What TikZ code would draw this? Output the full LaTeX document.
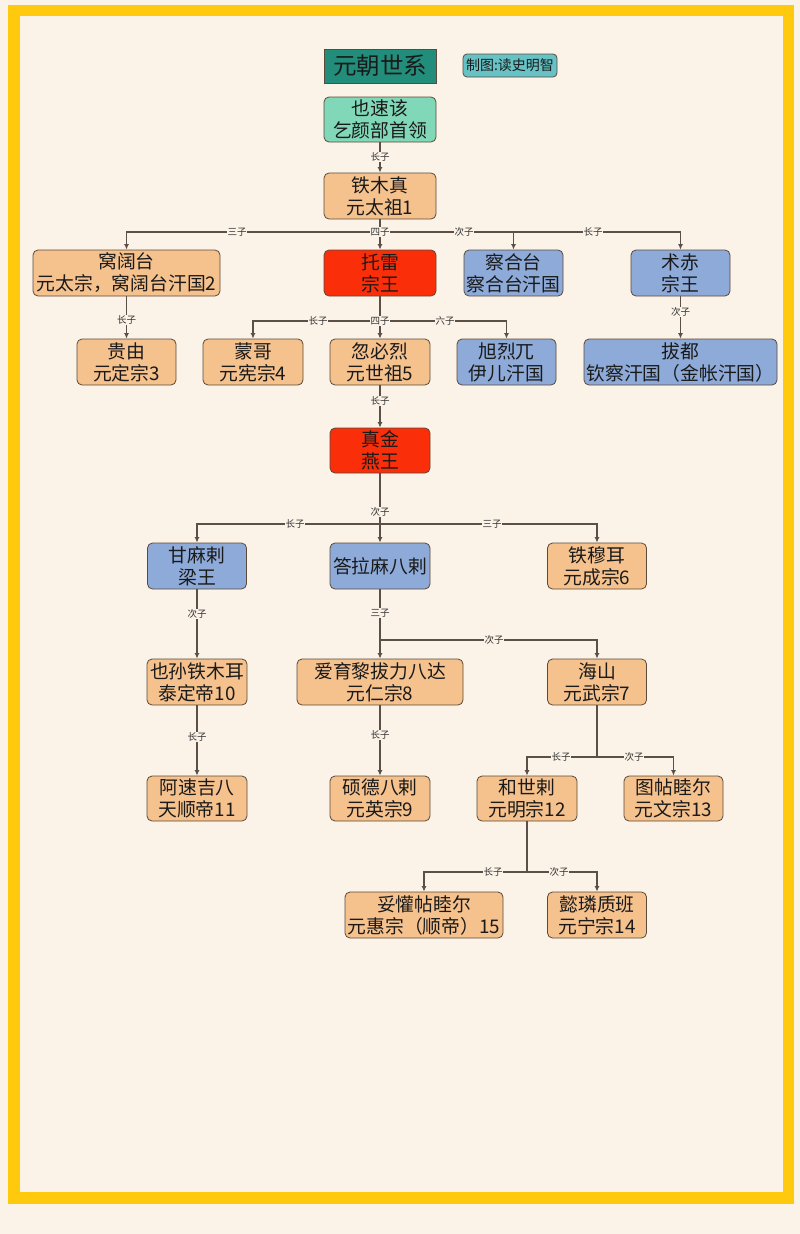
\documentclass[tikz,border=0pt]{standalone}
\usepackage{fontspec}
\setmainfont{Noto Sans CJK SC}
\usetikzlibrary{arrows.meta}
\definecolor{bgc}{HTML}{FCF3E8}
\definecolor{framec}{HTML}{FFC90E}
\definecolor{orangec}{HTML}{F5C18D}
\definecolor{redc}{HTML}{FA2E08}
\definecolor{bluec}{HTML}{8DAAD8}
\definecolor{mintc}{HTML}{80D8B8}
\definecolor{titlec}{HTML}{228D7A}
\definecolor{creditc}{HTML}{66C2C4}
\definecolor{linec}{HTML}{5A5048}
\definecolor{borderc}{HTML}{5B4A3A}
\definecolor{textc}{HTML}{1A1A1A}
\tikzset{
  box/.style={draw=borderc, line width=0.8pt, rounded corners=5pt, align=center,
    text=textc, inner sep=0pt, font=\fontsize{18.8}{22}\selectfont,
    minimum height=46pt, minimum width=100pt},
  obox/.style={box, fill=orangec},
  rbox/.style={box, fill=redc},
  bbox/.style={box, fill=bluec},
  edge/.style={draw=linec, line width=1.1pt, -{Latex[length=5.5pt,width=5pt]}},
  lab/.style={fill=bgc, inner sep=0.6pt, text=textc!90, font=\fontsize{9.5}{10}\selectfont}
}
\begin{document}
\begin{tikzpicture}[x=1pt,y=-1pt]
\fill[bgc] (0,0) rectangle (800,1234);
\useasboundingbox (0,0) rectangle (800,1234);
\draw[framec, line width=11.5pt] (14,10.5) rectangle (788.5,1198);

% title
\node[draw=borderc, line width=0.8pt, fill=titlec, text=textc, minimum width=112pt, minimum height=34pt,
  inner sep=0pt, font=\fontsize{23.5}{26}\selectfont] (title) at (380,66) {元朝世系};
\node[draw=borderc, line width=0.8pt, fill=creditc, rounded corners=4pt, text=textc, minimum width=94pt,
  minimum height=23pt, inner sep=0pt, font=\fontsize{14}{15}\selectfont] (credit) at (510,65.5) {制图:读史明智};

% nodes
\node[box, fill=mintc, minimum width=112pt, minimum height=45pt] (ysg) at (380,119.5) {也速该\\乞颜部首领};
\node[obox, minimum width=112pt] (tmz) at (380,196) {铁木真\\元太祖1};

\node[obox, minimum width=187pt] (wkt) at (126.5,273) {窝阔台\\元太宗，窝阔台汗国2};
\node[rbox, minimum width=112pt] (tl) at (380,273) {托雷\\宗王};
\node[bbox, minimum width=99pt] (cht) at (513.5,273) {察合台\\察合台汗国};
\node[bbox, minimum width=99pt] (zc) at (680.5,273) {术赤\\宗王};

\node[obox, minimum width=99pt] (gy) at (126.5,362) {贵由\\元定宗3};
\node[obox] (mg) at (253,362) {蒙哥\\元宪宗4};
\node[obox] (hbl) at (380,362) {忽必烈\\元世祖5};
\node[bbox, minimum width=99pt] (xlw) at (506.5,362) {旭烈兀\\伊儿汗国};
\node[bbox, minimum width=193pt] (bd) at (680.5,362) {拔都\\钦察汗国（金帐汗国）};

\node[rbox, minimum height=45pt] (zj) at (380,450.5) {真金\\燕王};

\node[bbox, minimum width=99pt] (gml) at (197,566) {甘麻剌\\梁王};
\node[bbox] (dlm) at (380,566) {答拉麻八剌};
\node[obox, minimum width=99pt] (tme) at (597,566) {铁穆耳\\元成宗6};

\node[obox] (ysm) at (197,682) {也孙铁木耳\\泰定帝10};
\node[obox, minimum width=166pt] (ayl) at (380,682) {爱育黎拔力八达\\元仁宗8};
\node[obox, minimum width=99pt] (hs) at (597,682) {海山\\元武宗7};

\node[obox, minimum height=45pt] (asj) at (197,798.5) {阿速吉八\\天顺帝11};
\node[obox, minimum height=45pt] (sdb) at (380,798.5) {硕德八剌\\元英宗9};
\node[obox, minimum height=45pt] (hsl) at (527,798.5) {和世剌\\元明宗12};
\node[obox, minimum width=99pt, minimum height=45pt] (ttm) at (673.5,798.5) {图帖睦尔\\元文宗13};

\node[obox, minimum width=158pt] (thm) at (424,915) {妥懽帖睦尔\\元惠宗（顺帝）15};
\node[obox, minimum width=99pt] (ylz) at (597,915) {懿璘质班\\元宁宗14};

% bus coordinates
\coordinate (b1) at (380,232);
\coordinate (b2) at (380,321);
\coordinate (b3) at (380,524);
\coordinate (b4) at (380,640);
\coordinate (b5) at (597,757);
\coordinate (b6) at (527,872);

% edges
\draw[edge] (ysg.south) -- (tmz.north);
\draw[edge] (tmz.south) -- (b1) -| (wkt.north);
\draw[edge] (tmz.south) -- (tl.north);
\draw[edge] (tmz.south) -- (b1) -| (cht.north);
\draw[edge] (tmz.south) -- (b1) -| (zc.north);
\draw[edge] (wkt.south) -- (gy.north);
\draw[edge] (tl.south) -- (b2) -| (mg.north);
\draw[edge] (tl.south) -- (hbl.north);
\draw[edge] (tl.south) -- (b2) -| (xlw.north);
\draw[edge] (zc.south) -- (bd.north);
\draw[edge] (hbl.south) -- (zj.north);
\draw[edge] (zj.south) -- (b3) -| (gml.north);
\draw[edge] (zj.south) -- (dlm.north);
\draw[edge] (zj.south) -- (b3) -| (tme.north);
\draw[edge] (gml.south) -- (ysm.north);
\draw[edge] (dlm.south) -- (ayl.north);
\draw[edge] (dlm.south) -- (b4) -| (hs.north);
\draw[edge] (ysm.south) -- (asj.north);
\draw[edge] (ayl.south) -- (sdb.north);
\draw[edge] (hs.south) -- (b5) -| (hsl.north);
\draw[edge] (hs.south) -- (b5) -| (ttm.north);
\draw[edge] (hsl.south) -- (b6) -| (thm.north);
\draw[edge] (hsl.south) -- (b6) -| (ylz.north);

% edge labels
\node[lab] (l1) at (380,157) {长子};
\node[lab] (l2) at (237,232) {三子};
\node[lab] (l3) at (380,232) {四子};
\node[lab] (l4) at (464,232) {次子};
\node[lab] (l5) at (593,232) {长子};
\node[lab] (l6) at (126.5,320) {长子};
\node[lab] (l7) at (318,321) {长子};
\node[lab] (l8) at (380,321) {四子};
\node[lab] (l9) at (445,321) {六子};
\node[lab] (l10) at (680.5,312) {次子};
\node[lab] (l11) at (380,401) {长子};
\node[lab] (l12) at (295,524) {长子};
\node[lab] (l13) at (380,512) {次子};
\node[lab] (l14) at (492,524) {三子};
\node[lab] (l15) at (197,614) {次子};
\node[lab] (l16) at (380,613) {三子};
\node[lab] (l17) at (494,640) {次子};
\node[lab] (l18) at (197,737) {长子};
\node[lab] (l19) at (380,735) {长子};
\node[lab] (l20) at (561,757) {长子};
\node[lab] (l21) at (634,757) {次子};
\node[lab] (l22) at (493,872) {长子};
\node[lab] (l23) at (559,872) {次子};
\end{tikzpicture}
\end{document}
